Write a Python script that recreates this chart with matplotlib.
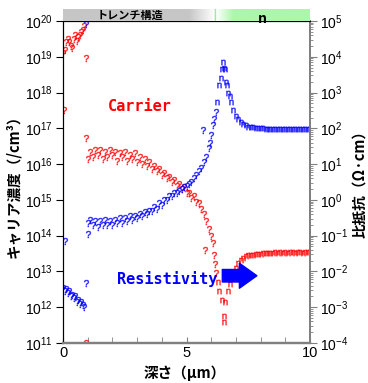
import numpy as np
import matplotlib.pyplot as plt
from matplotlib.colors import to_rgb

plt.rcParams['font.family'] = ['Liberation Sans', 'DejaVu Sans']
plt.rcParams['mathtext.fontset'] = 'custom'
plt.rcParams['mathtext.rm'] = 'Liberation Sans'
plt.rcParams['mathtext.it'] = 'Liberation Sans:italic'
plt.rcParams['mathtext.bf'] = 'Liberation Sans:bold'
JP = ['Noto Sans CJK JP', 'DejaVu Sans']

# carrier concentration (log10 /cm3), "?" points
carrier_q_x = [0.02, 0.08, 0.14, 0.2, 0.26, 0.32, 0.38, 0.44, 0.5, 0.56, 0.62, 0.68, 0.74, 0.8, 0.86,
               0.05, 0.92, 0.92, 0.92,
               1.0, 1.1, 1.2, 1.3, 1.4, 1.5, 1.6, 1.7, 1.8, 1.9, 2.0, 2.1, 2.2, 2.3, 2.4, 2.5,
               2.6, 2.7, 2.8, 2.9, 3.0, 3.1, 3.2, 3.3, 3.4, 3.5, 3.6, 3.7, 3.8, 3.9, 4.0, 4.1,
               4.2, 4.3, 4.4, 4.5, 4.6, 4.7, 4.8, 4.9, 5.0, 5.1, 5.2, 5.3, 5.4, 5.5, 5.6, 5.7,
               5.75, 5.8, 5.9, 6.0, 6.07, 6.1, 6.15, 6.2]
carrier_q_log = [19.1, 19.2, 19.4, 19.5, 19.4, 19.3, 19.25, 19.5, 19.6, 19.45, 19.55, 19.6, 19.7, 19.75, 19.85,
                 17.5, 18.97, 16.73, 11.0,
                 16.15, 16.35, 16.2, 16.4, 16.25, 16.4, 16.15, 16.35, 16.2, 16.4, 16.25, 16.35, 16.1, 16.3, 16.2, 16.35,
                 16.1, 16.25, 16.15, 16.3, 16.05, 16.2, 16.0, 16.15, 15.95, 16.05, 15.85, 15.95, 15.8, 15.85, 15.7, 15.75,
                 15.6, 15.65, 15.5, 15.55, 15.4, 15.45, 15.3, 15.35, 15.2, 15.2, 15.05, 15.1, 14.95, 14.9, 14.75, 14.6,
                 13.6, 14.4, 14.2, 14.0, 13.8, 13.45, 13.2, 12.95]
# carrier "n" points
carrier_n_x = [6.27, 6.32, 6.42, 6.55, 6.5, 6.52, 6.7, 6.78, 6.9, 7.0, 7.1, 7.2, 7.3,
               7.4, 7.5, 7.6, 7.7, 7.8, 7.9, 8.0, 8.1, 8.2, 8.3, 8.4, 8.5, 8.6, 8.7, 8.8, 8.9,
               9.0, 9.1, 9.2, 9.3, 9.4, 9.5, 9.6, 9.7, 9.8, 9.9, 10.0]
carrier_n_log = [12.7, 12.45, 12.2, 12.15, 11.75, 11.6, 12.45, 12.65, 12.85, 13.1, 13.25, 13.33, 13.38,
                 13.42, 13.45, 13.46, 13.47, 13.49, 13.5, 13.5, 13.51, 13.52, 13.52, 13.52, 13.52, 13.53, 13.52, 13.53, 13.52,
                 13.53, 13.52, 13.53, 13.53, 13.52, 13.53, 13.53, 13.52, 13.53, 13.53, 13.53]

# resistivity (log10 ohm cm), "?" points
resist_q_x = [0.02, 0.08, 0.14, 0.2, 0.26, 0.32, 0.38, 0.44, 0.5, 0.56, 0.62, 0.68, 0.74, 0.8, 0.86,
              0.07, 0.92, 0.93, 1.0,
              1.0, 1.1, 1.2, 1.3, 1.4, 1.5, 1.6, 1.7, 1.8, 1.9, 2.0, 2.1, 2.2, 2.3, 2.4, 2.5,
              2.6, 2.7, 2.8, 2.9, 3.0, 3.1, 3.2, 3.3, 3.4, 3.5, 3.6, 3.7, 3.8, 3.9, 4.0, 4.1,
              4.2, 4.3, 4.4, 4.5, 4.6, 4.7, 4.8, 4.9, 5.0, 5.1, 5.2, 5.3, 5.4, 5.5, 5.6, 5.65,
              5.7, 5.8, 5.9, 5.95, 6.0, 6.07, 6.12, 6.2]
resist_q_log = [-2.45, -2.55, -2.5, -2.6, -2.55, -2.7, -2.65, -2.75, -2.7, -2.85, -2.8, -2.9, -2.85, -2.95, -3.0,
                -1.15, -2.32, 4.92, -0.95,
                -0.65, -0.55, -0.7, -0.6, -0.75, -0.6, -0.7, -0.55, -0.7, -0.6, -0.7, -0.55, -0.65, -0.5, -0.65, -0.5,
                -0.6, -0.45, -0.55, -0.45, -0.5, -0.4, -0.45, -0.35, -0.4, -0.3, -0.3, -0.2, -0.25, -0.1, -0.15, 0.0,
                0.0, 0.1, 0.1, 0.2, 0.2, 0.25, 0.3, 0.35, 0.4, 0.45, 0.5, 0.6, 0.7, 0.8, 0.9, 1.95,
                1.05, 1.2, 1.45, 1.6, 1.8, 2.1, 2.25, 2.46]
# resistivity "n" points
resist_n_x = [6.25, 6.3, 6.4, 6.43, 6.47, 6.52, 6.55, 6.6, 6.65, 6.7, 6.75, 6.8, 6.9, 7.0, 7.1, 7.2,
              7.3, 7.4, 7.5, 7.6, 7.7, 7.8, 7.9, 8.0, 8.1, 8.2, 8.3, 8.4, 8.5, 8.6, 8.7, 8.8, 8.9,
              9.0, 9.1, 9.2, 9.3, 9.4, 9.5, 9.6, 9.7, 9.8, 9.9, 10.0]
resist_n_log = [2.75, 3.2, 3.4, 3.65, 3.85, 3.7, 3.65, 3.3, 3.2, 3.0, 2.9, 2.75, 2.5, 2.35, 2.25, 2.18,
                2.12, 2.08, 2.05, 2.04, 2.03, 2.02, 2.01, 2.0, 2.0, 1.99, 1.99, 1.99, 1.98, 1.98, 1.98, 1.98, 1.98,
                1.98, 1.98, 1.98, 1.98, 1.98, 1.98, 1.98, 1.98, 1.98, 1.98, 1.98]

fig = plt.figure(figsize=(3.68, 3.83), dpi=100)
ax = fig.add_axes([63/368, 1-343/383, 247/368, 322/383])
ax2 = ax.twinx()

mq = dict(ls='none', markersize=5, mew=0.4, alpha=0.7, marker='$?$')
mn = dict(ls='none', markersize=3.8, mew=0.4, alpha=0.7, marker='$\\mathrm{n}$')
ax.plot(carrier_q_x, 10.0**np.array(carrier_q_log), color='red', **mq)
ax.plot(carrier_n_x, 10.0**np.array(carrier_n_log), color='red', **mn)
ax2.plot(resist_q_x, 10.0**np.array(resist_q_log), color='blue', **mq)
ax2.plot(resist_n_x, 10.0**np.array(resist_n_log), color='blue', **mn)

ax.set_xlim(0, 10)
ax.set_yscale('log')
ax.set_ylim(1e11, 1e20)
ax2.set_yscale('log')
ax2.set_ylim(1e-4, 1e5)
ax.set_yticks(10.0**np.arange(11, 21))
ax2.set_yticks(10.0**np.arange(-4, 6))
ax.set_xticks([0, 5, 10])
ax.set_xticks(range(11), minor=True)
ax.set_xticklabels(['0', '5', '10'])
for a in (ax, ax2):
    a.tick_params(axis='y', which='major', length=5, labelsize=10, direction='out', pad=2)
    a.tick_params(axis='y', which='minor', length=2.5, direction='out')
ax.tick_params(axis='x', which='both', direction='in', length=4, labelsize=10.5, color='gray', pad=2)
ax2.tick_params(axis='y', which='both', color='gray')
ax.spines['left'].set_color('black')
for a in (ax, ax2):
    a.spines['bottom'].set_color('gray')
    a.spines['bottom'].set_linewidth(1.6)
    a.spines['right'].set_color('gray')
    a.spines['right'].set_linewidth(1.4)

ax.text(3.12, 10**17.6, 'Carrier', color='red', fontsize=11, fontweight='bold',
        family='DejaVu Sans Mono', ha='center', va='center')
ax.text(4.2, 10**12.8, 'Resistivity', color='blue', fontsize=11, fontweight='bold',
        family='DejaVu Sans Mono', ha='center', va='center')
ax.annotate('', xy=(7.85, 10**12.88), xytext=(6.45, 10**12.88),
            arrowprops=dict(arrowstyle='simple,head_length=0.7,head_width=1.0,tail_width=0.5',
                            color='blue', mutation_scale=18, shrinkA=0, shrinkB=0))

# structure band above the plot
band = fig.add_axes([63/368, 1-21/383, 247/368, 12/383])
gray = np.array(to_rgb('#c6c6c6'))
green = np.array(to_rgb('#aef5ae'))
white = np.ones(3)
cols = []
for xv in np.linspace(0, 10, 500):
    if xv < 5.1:
        cols.append(gray)
    elif xv < 6.15:
        t = (xv - 5.1) / 1.05
        cols.append(gray * (1 - t) + white * t)
    elif xv < 6.2:
        cols.append(np.array(to_rgb('#9ee89e')))
    elif xv < 6.9:
        t = (xv - 6.2) / 0.7
        cols.append(white * (1 - t) + green * t)
    else:
        cols.append(green)
band.imshow(np.array(cols)[None, :, :], aspect='auto', extent=(0, 10, 0, 1))
band.set_xlim(0, 10)
band.set_ylim(0, 1)
band.axis('off')
band.text(2.7, 0.5, 'トレンチ構造', family=JP, fontsize=8, fontweight='bold', ha='center', va='center')
band.text(8.06, 0.2, 'n', family=JP, fontsize=10, fontweight='bold', ha='center', va='center')

fig.text(13/368, 1-183/383, 'キャリア濃度（/cm³）', family=JP, fontsize=10.5, fontweight='bold',
         rotation=90, ha='center', va='center')
fig.text(359/368, 1-180/383, '比抵抗（Ω·cm）', family=JP, fontsize=10.5, fontweight='bold',
         rotation=90, ha='center', va='center')
fig.text(185/368, 1-373/383, '深さ（μm）', family=JP, fontsize=10.5, fontweight='bold',
         ha='center', va='center')

fig.savefig('out.png', dpi=100)
